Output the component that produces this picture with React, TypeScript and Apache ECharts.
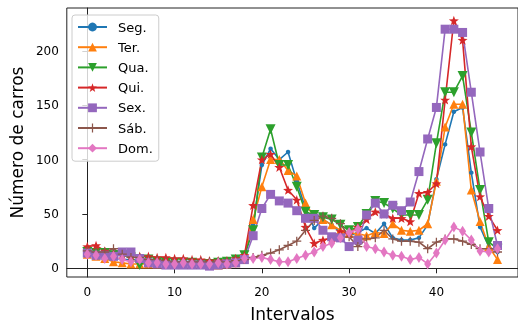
import React, { useEffect, useRef } from "react";
import * as echarts from "echarts";

const intervals = [0,1,2,3,4,5,6,7,8,9,10,11,12,13,14,15,16,17,18,19,20,21,22,23,24,25,26,27,28,29,30,31,32,33,34,35,36,37,38,39,40,41,42,43,44,45,46,47];
const xTicks = [0, 10, 20, 30, 40];
const yTicks = [0, 50, 100, 150, 200];

const seg = [14,13,12,10,8,8,7,6,5,5,5,4,4,4,4,4,5,6, 10,40,95,110,100,107,80,55,37,45,40,33,30,33,37,32,41,28,26,26,28,40,82,114,144,148,88,38,20,15];
const ter = [13,11,9,6,5,4,4,4,4,4,4,4,4,4,3,3,4,5, 12,45,75,100,100,90,85,60,47,45,40,35,32,32,30,33,32,41,35,34,35,41,80,130,151,151,72,43,20,8];
const qua = [15,14,14,12,12,10,3,8,6,5,5,5,5,4,4,5,6,8, 12,35,102,128,95,95,75,52,49,47,45,40,35,38,50,62,60,55,49,49,49,63,115,162,162,177,125,72,24,18];
const qui = [20,21,16,14,13,12,11,11,10,10,9,9,8,8,7,7,7,9, 12,58,100,105,93,72,63,38,23,26,28,34,32,38,45,52,50,46,46,43,69,70,78,155,228,210,112,66,48,35];
const sex = [14,12,12,11,15,15,9,5,4,3,3,3,3,3,2,3,4,5, 8,30,55,68,62,60,53,46,46,35,29,28,20,26,49,60,50,58,53,61,89,119,148,220,220,217,162,107,55,21];
const sab = [16,15,15,18,13,10,10,8,8,7,6,6,6,6,6,6,6,7, 8,10,12,14,17,21,25,35,44,48,46,41,29,20,27,28,35,27,25,25,24,18,24,27,27,25,22,18,18,15];
const dom = [13,12,9,11,8,6,8,5,5,4,4,5,4,4,4,5,4,5, 9,9,10,8,6,6,9,12,15,20,23,28,33,36,20,18,15,12,11,8,10,4,14,26,38,34,26,16,15,18];

const seriesNames = ["Seg.", "Ter.", "Qua.", "Qui.", "Sex.", "Sáb.", "Dom."];
const seriesData = [seg, ter, qua, qui, sex, sab, dom];
const colors = ["#1f77b4", "#ff7f0e", "#2ca02c", "#d62728", "#9467bd", "#8c564b", "#e377c2"];

const STAR = "path://M0,-10 L2.35,-3.24 L9.51,-3.09 L3.8,1.24 L5.88,8.09 L0,4 L-5.88,8.09 L-3.8,1.24 L-9.51,-3.09 L-2.35,-3.24 Z";
const PLUS = "path://M-0.7,-5 L0.7,-5 L0.7,-0.7 L5,-0.7 L5,0.7 L0.7,0.7 L0.7,5 L-0.7,5 L-0.7,0.7 L-5,0.7 L-5,-0.7 L-0.7,-0.7 Z";

const symbols: any[] = [
  { symbol: "circle", symbolSize: 4.5 },
  { symbol: "triangle", symbolSize: 9 },
  { symbol: "triangle", symbolSize: 10, symbolRotate: 180 },
  { symbol: STAR, symbolSize: 10 },
  { symbol: "rect", symbolSize: 9 },
  { symbol: PLUS, symbolSize: 9 },
  { symbol: "diamond", symbolSize: [7, 11] },
];

const FONT = "DejaVu Sans";

export default function App() {
  const ref = useRef<HTMLDivElement>(null);
  useEffect(() => {
    if (!ref.current) return;
    const chart = echarts.init(ref.current, undefined, { renderer: "svg" });
    chart.setOption({
      animation: false,
      textStyle: { fontFamily: FONT },
      grid: {
        left: 66, top: 8, width: 455, height: 270,
        show: true, borderColor: "#222", borderWidth: 1, backgroundColor: "transparent",
      },
      legend: {
        orient: "vertical",
        left: 72, top: 15,
        padding: [5, 6, 6, 5],
        itemGap: 6.2,
        itemWidth: 29,
        itemHeight: 11,
        borderColor: "#cccccc",
        borderWidth: 1,
        borderRadius: 3,
        backgroundColor: "rgba(255,255,255,0.8)",
        textStyle: { fontSize: 13, lineHeight: 14, fontFamily: FONT, color: "#000", padding: [0, 0, 0, 6] },
        data: seriesNames,
      },
      xAxis: {
        type: "value",
        min: -2.35, max: 49.35,
        name: "Intervalos",
        nameLocation: "middle",
        nameGap: 28,
        nameTextStyle: { fontSize: 17, color: "#000", fontFamily: FONT },
        axisLine: { show: true, lineStyle: { color: "#222", width: 1 } },
        axisTick: { show: true, customValues: xTicks, length: 5, lineStyle: { color: "#222" } },
        axisLabel: { customValues: xTicks, fontSize: 12, color: "#000", margin: 9, fontFamily: FONT },
        splitLine: { show: false },
      },
      yAxis: {
        type: "value",
        min: -8, max: 239.5,
        name: "Número de carros",
        nameLocation: "middle",
        nameGap: 39,
        nameRotate: 90,
        nameTextStyle: { fontSize: 17, color: "#000", fontFamily: FONT },
        axisLine: { show: true, lineStyle: { color: "#222", width: 1 } },
        axisTick: { show: true, customValues: yTicks, length: 5, lineStyle: { color: "#222" } },
        axisLabel: { customValues: yTicks, fontSize: 12, color: "#000", margin: 8, fontFamily: FONT },
        splitLine: { show: false },
      },
      series: seriesNames.map((name, k) => ({
        name,
        type: "line",
        data: seriesData[k].map((v, i) => [intervals[i], v]),
        showSymbol: true,
        showAllSymbol: true,
        symbolKeepAspect: true,
        ...symbols[k],
        lineStyle: { color: colors[k], width: 1.6 },
        itemStyle: { color: colors[k], opacity: 1 },
        emphasis: { disabled: true },
      })),
    });
    return () => chart.dispose();
  }, []);
  return <div ref={ref} style={{ position: "fixed", left: 0, top: 0, width: 518, height: 327 }} />;
}
